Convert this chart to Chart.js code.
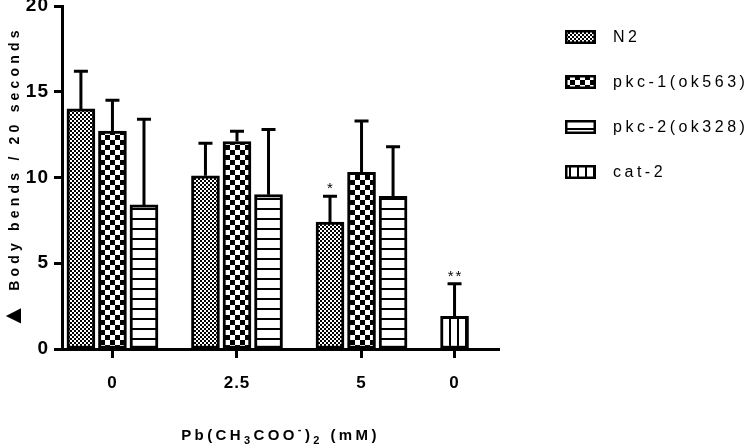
<!DOCTYPE html>
<html>
<head>
<meta charset="utf-8">
<script src="https://cdn.jsdelivr.net/npm/chart.js@4.4.0/dist/chart.umd.min.js"></script>
<style>
  html, body { margin: 0; padding: 0; background: #fff; }
</style>
</head>
<body>
<canvas id="chart" width="754" height="447"></canvas>
<script>
// values
const groups = ['0', '2.5', '5', '0'];
const seriesNames = ['N2', 'pkc-1(ok563)', 'pkc-2(ok328)', 'cat-2'];
const n2 = [14.0, 10.1, 7.4, null];
const pkc1 = [12.7, 12.1, 10.3, null];
const pkc2 = [8.4, 9.0, 8.9, null];
const cat2 = [null, null, null, 1.9];
// upper error bars (SD)
const n2Err = [2.2, 1.9, 1.5, null];
const pkc1Err = [1.8, 0.6, 3.0, null];
const pkc2Err = [5.0, 3.8, 2.9, null];
const cat2Err = [null, null, null, 1.9];
// significance marks
const n2Sig = ['', '', '*', ''];
const cat2Sig = ['', '', '', '**'];
const yTicks = [0, 5, 10, 15, 20];

const values = [n2, pkc1, pkc2, cat2];
const errors = [n2Err, pkc1Err, pkc2Err, cat2Err];
const sigs = [n2Sig, [], [], cat2Sig];

// black & white fill patterns like the original
function makePattern(kind) {
  const c = document.createElement('canvas');
  const g = c.getContext('2d');
  if (kind === 'fine') {
    c.width = 4; c.height = 4;
    g.fillStyle = '#fff'; g.fillRect(0, 0, 4, 4);
    g.fillStyle = '#000'; g.fillRect(0, 0, 2, 2); g.fillRect(2, 2, 2, 2);
  } else if (kind === 'check') {
    c.width = 10; c.height = 10;
    g.fillStyle = '#fff'; g.fillRect(0, 0, 10, 10);
    g.fillStyle = '#000'; g.fillRect(0, 0, 5, 5); g.fillRect(5, 5, 5, 5);
  } else if (kind === 'hlines') {
    c.width = 10; c.height = 10;
    g.fillStyle = '#fff'; g.fillRect(0, 0, 10, 10);
    g.fillStyle = '#000'; g.fillRect(0, 8, 10, 2);
  } else {
    c.width = 8; c.height = 8;
    g.fillStyle = '#fff'; g.fillRect(0, 0, 8, 8);
    g.fillStyle = '#000'; g.fillRect(1, 0, 2, 8);
  }
  return g.createPattern(c, 'repeat');
}
const patterns = ['fine', 'check', 'hlines', 'vlines'].map(makePattern);

// bar slots on the x axis: bars side by side, a gap between groups, empty series skipped
const startGap = 0.6, groupGap = 1.95, endGap = 1.41;
const groupCenter = [];
const points = values.map(() => []);
let cursor = startGap;
groups.forEach((label, gi) => {
  const xs = [];
  values.forEach((arr, si) => {
    if (arr[gi] != null) {
      points[si].push({ x: cursor, y: arr[gi], g: gi });
      xs.push(cursor);
      cursor += 1;
    }
  });
  groupCenter.push((xs[0] + xs[xs.length - 1]) / 2);
  cursor += groupGap - 1;
});
const xMax = cursor - groupGap + endGap;

const font = '"Liberation Sans", Arial, sans-serif';

// draw a run of text pieces (normal / sub / sup / big) centred on x=0
function drawPieces(ctx, pieces, size, spacing) {
  const fontFor = (k) => 'bold ' + (k === 'n' ? size : k === 'big' ? size + 12 : Math.round(size * 0.7)) + 'px ' + font;
  ctx.letterSpacing = spacing + 'px';
  let total = 0;
  pieces.forEach(([t, k]) => { ctx.font = fontFor(k); total += ctx.measureText(t).width; });
  let x = -total / 2;
  ctx.textAlign = 'left';
  ctx.textBaseline = 'alphabetic';
  pieces.forEach(([t, k]) => {
    ctx.font = fontFor(k);
    const dy = k === 'sub' ? 4 : k === 'sup' ? -7 : k === 'big' ? 2 : 0;
    ctx.fillText(t, x, dy);
    x += ctx.measureText(t).width;
  });
}

const extras = {
  id: 'extras',
  beforeLayout(chart) { chart.ctx.letterSpacing = '1px'; },
  beforeDraw(chart) { chart.ctx.letterSpacing = '1px'; },
  afterDatasetsDraw(chart) {
    const ctx = chart.ctx;
    const y = chart.scales.y;
    chart.data.datasets.forEach((ds, si) => {
      const meta = chart.getDatasetMeta(si);
      meta.data.forEach((bar, k) => {
        const gi = ds.data[k].g;
        const top = y.getPixelForValue(values[si][gi] + errors[si][gi]);
        ctx.save();
        ctx.strokeStyle = '#000';
        ctx.lineWidth = 3;
        ctx.beginPath();
        ctx.moveTo(bar.x, bar.y);
        ctx.lineTo(bar.x, top);
        ctx.moveTo(bar.x - 7, top);
        ctx.lineTo(bar.x + 7, top);
        ctx.stroke();
        const s = sigs[si][gi];
        if (s) {
          ctx.fillStyle = '#000';
          ctx.font = '15px ' + font;
          ctx.letterSpacing = '2px';
          ctx.textAlign = 'center';
          ctx.textBaseline = 'alphabetic';
          ctx.fillText(s, bar.x + 1, top - 3);
        }
        ctx.restore();
      });
    });
  },
  afterDraw(chart) {
    const ctx = chart.ctx;
    const area = chart.chartArea;
    ctx.save();
    ctx.fillStyle = '#000';
    // y axis title
    ctx.save();
    ctx.translate(19, (area.top + area.bottom) / 2);
    ctx.rotate(-Math.PI / 2);
    drawPieces(ctx, [['\u25B2', 'big'], [' Body bends / 20 seconds', 'n']], 14, 4.2);
    ctx.restore();
    // x axis title
    ctx.save();
    ctx.translate((area.left + area.right) / 2, 440);
    drawPieces(ctx, [['Pb(CH', 'n'], ['3', 'sub'], ['COO', 'n'], ['-', 'sup'], [')', 'n'],
      ['2', 'sub'], [' (mM)', 'n']], 15, 3.4);
    ctx.restore();
    // legend
    ctx.font = '16px ' + font;
    ctx.letterSpacing = '3.5px';
    ctx.textAlign = 'left';
    ctx.textBaseline = 'middle';
    chart.data.datasets.forEach((ds, i) => {
      const cy = 37 + i * 45;
      ctx.fillStyle = patterns[i];
      ctx.fillRect(565, cy - 7, 31, 14);
      ctx.strokeStyle = '#000';
      ctx.lineWidth = 2.5;
      ctx.strokeRect(566.25, cy - 5.75, 28.5, 11.5);
      ctx.fillStyle = '#000';
      ctx.fillText(ds.label, 613, cy + 1);
    });
    ctx.restore();
  }
};

new Chart(document.getElementById('chart'), {
  type: 'bar',
  data: {
    datasets: seriesNames.map((name, i) => ({
      label: name,
      data: points[i],
      backgroundColor: patterns[i],
      borderColor: '#000',
      borderWidth: 3,
      borderSkipped: false,
      barThickness: 28,
      grouped: false
    }))
  },
  options: {
    responsive: false,
    animation: false,
    events: [],
    layout: { padding: { top: 6, right: 255, left: 0, bottom: 0 } },
    plugins: { legend: { display: false }, tooltip: { enabled: false } },
    scales: {
      x: {
        type: 'linear',
        min: 0,
        max: xMax,
        offset: false,
        afterBuildTicks: (axis) => { axis.ticks = groupCenter.map(v => ({ value: v })); },
        afterFit: (axis) => { axis.height = 98; },
        ticks: {
          autoSkip: false,
          maxRotation: 0,
          padding: 15,
          color: '#000',
          font: { family: font, size: 17, weight: 'bold' },
          callback: (v, i) => groups[i]
        },
        grid: { offset: false, drawOnChartArea: false, drawTicks: true, tickLength: 9, tickWidth: 3, tickColor: '#000', color: '#000' },
        border: { display: true, width: 3, color: '#000' }
      },
      y: {
        min: 0,
        max: 20,
        afterBuildTicks: (axis) => { axis.ticks = yTicks.map(v => ({ value: v })); },
        afterFit: (axis) => { axis.width = 62; axis.paddingTop = 0; axis.paddingBottom = 0; },
        ticks: {
          padding: 5,
          color: '#000',
          font: { family: font, size: 19, weight: 'bold' }
        },
        grid: { drawOnChartArea: false, drawTicks: true, tickLength: 8, tickWidth: 3, tickColor: '#000', color: '#000' },
        border: { display: true, width: 3, color: '#000' }
      }
    }
  },
  plugins: [extras]
});
</script>
</body>
</html>
